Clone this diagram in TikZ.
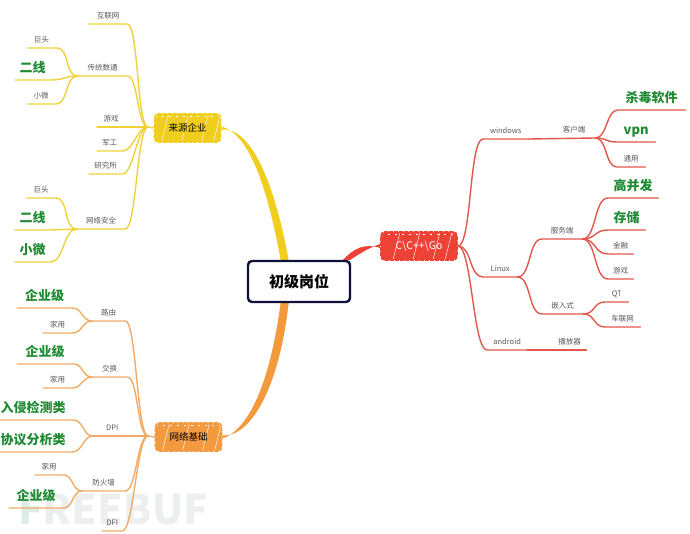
\documentclass[tikz,border=0pt]{standalone}
\usepackage{fontspec}
\setmainfont{Noto Sans CJK SC}
\definecolor{ybranch}{HTML}{EFD23A}
\definecolor{obranch}{HTML}{F0AC66}
\definecolor{rbranch}{HTML}{E2574C}
\definecolor{yfill}{HTML}{F0CE1E}
\definecolor{ofill}{HTML}{F39A3E}
\definecolor{rfill}{HTML}{EE4237}
\definecolor{leafgreen}{HTML}{1F8A33}
\definecolor{rootnavy}{HTML}{0E1238}
\definecolor{markgray}{HTML}{EDEFEE}
\definecolor{markgreen}{HTML}{DDEDE6}
\tikzset{
  small/.style={inner xsep=0pt, inner ysep=5.5pt, anchor=south west, text depth=0pt, text=black!65, font=\fontsize{7.5}{8}\selectfont},
  big/.style={inner xsep=0pt, inner ysep=7pt, anchor=south west, text depth=0pt, text=leafgreen, font=\fontsize{13}{14}\selectfont\bfseries},
  sketch/.style={draw=#1, fill=#1, line width=1.8pt, dash pattern=on 4pt off 1pt, rounded corners=4pt, minimum width=66pt, minimum height=28pt, inner sep=0pt,
    font=\fontsize{9.5}{10}\selectfont,
    path picture={
      \foreach \dx in {-26,-6,14,26}
        \draw[white, line width=.4pt, solid] ([xshift=\dx pt]path picture bounding box.south) -- ++(7,-28);
      \draw[white, line width=.8pt, dash pattern=on 2pt off 5pt] ([yshift=-2pt]path picture bounding box.north west) -- ([yshift=-2pt]path picture bounding box.north east);
    }},
  twig/.style={line width=1.4pt, line cap=round},
  lcurve/.style={out=180, in=0, out distance=#1, in distance=#1},
  rcurve/.style={out=0, in=180, out distance=#1, in distance=#1},
}
\begin{document}
\begin{tikzpicture}[x=1pt, y=-1pt]
  \useasboundingbox (0,0) rectangle (690,534);

  % watermark
  \node[anchor=west, inner sep=0pt, text=markgray, font=\fontsize{41}{41}\selectfont\bfseries] (mark) at (18,510) {\textcolor{markgreen}{F}REEBUF};

  % centre and the three main boxes
  \node[sketch=yfill, text=black] (laiyuan) at (187.5,128) {来源企业};
  \node[sketch=ofill, text=black] (wangluo) at (188.5,437) {网络基础};
  \node[sketch=rfill, text=white, minimum width=76pt, font=\fontsize{10.5}{11}\selectfont] (cgo) at (419,246) {C\textbackslash C++\textbackslash Go};
  \coordinate (yroot) at (285,262);
  \coordinate (oroot) at (285,300);
  \coordinate (rroot) at (347,262);
  \fill[yfill] ([yshift=-1.5pt]laiyuan.east) .. controls (252,127) and (275,185) .. ([xshift=4pt]yroot)
    -- ([xshift=-4pt]yroot) .. controls (268,190) and (250,134) .. ([yshift=1.5pt]laiyuan.east) -- cycle;
  \fill[ofill] ([yshift=-1.5pt]wangluo.east) .. controls (248,430) and (270,385) .. ([xshift=-4pt]oroot)
    -- ([xshift=4pt]oroot) .. controls (280,385) and (252,437) .. ([yshift=1.5pt]wangluo.east) -- cycle;
  \fill[rfill] ([yshift=-2pt]cgo.west) .. controls (365,243) and (354,248) .. ([xshift=-4pt,yshift=2pt]rroot)
    -- ([xshift=3pt,yshift=2pt]rroot) .. controls (358,255) and (366,249) .. ([yshift=2pt]cgo.west) -- cycle;
  \node[draw=rootnavy, fill=white, line width=2.4pt, rounded corners=4pt, minimum width=102pt, minimum height=41pt,
    inner sep=0pt, font=\fontsize{15}{16}\selectfont\bfseries] (root) at (299,281.5) {初级岗位};

  % yellow side
  \coordinate (yhub) at (148,127);
  \node[small, minimum width=38pt] (hulian) at (89,24) {互联网};
  \node[small, minimum width=49pt] (chuantong) at (78,76) {传统数通};
  \node[small, minimum width=28pt] (youxi) at (97,127) {游戏};
  \node[small, minimum width=25pt] (jungong) at (97,151) {军工};
  \node[small, minimum width=33pt] (yanjiu) at (89,174) {研究所};
  \node[small, minimum width=48pt] (anquan) at (77,229) {网络安全};
  \node[small, minimum width=29pt] (jutou) at (27,48) {巨头};
  \node[big, minimum width=35pt] (erxian) at (15,80) {二线};
  \node[small, minimum width=28pt] (xiaowei) at (27,104) {小微};
  \node[small, minimum width=28pt] (jutoub) at (27,198) {巨头};
  \node[big, minimum width=35pt] (erxianb) at (15,230) {二线};
  \node[big, minimum width=35pt] (xiaoweib) at (15,262) {小微};
  \draw[ybranch, twig] (laiyuan.west) -- (yhub);
  \foreach \leaf in {hulian,chuantong,youxi,jungong,yanjiu,anquan}
    \draw[ybranch, twig] (yhub) to[lcurve=11pt] (\leaf.south east) -- (\leaf.south west);
  \foreach \leaf in {jutou,erxian,xiaowei}
    \draw[ybranch, twig] (chuantong.south west) to[lcurve=14pt] (\leaf.south east) -- (\leaf.south west);
  \foreach \leaf in {jutoub,erxianb,xiaoweib}
    \draw[ybranch, twig] (anquan.south west) to[lcurve=14pt] (\leaf.south east) -- (\leaf.south west);

  % orange side
  \coordinate (ohub) at (148,436);
  \node[small, minimum width=33pt] (luyou) at (92,321) {路由};
  \node[small, minimum width=35pt] (jiaohuan) at (92,377) {交换};
  \node[small, minimum width=38pt] (dpi) at (93,436) {DPI};
  \node[small, minimum width=43pt] (fanghuo) at (82,491) {防火墙};
  \node[small, minimum width=20pt] (dfi) at (102,531) {DFI};
  \node[big, minimum width=55pt] (qiye) at (17,308) {企业级};
  \node[small, minimum width=29pt] (jiayong) at (43,333) {家用};
  \node[big, minimum width=56pt] (qiyeb) at (17,364) {企业级};
  \node[small, minimum width=29pt] (jiayongb) at (43,388) {家用};
  \node[big, minimum width=73pt] (ruqin) at (0,420) {\hspace*{-7pt}入侵检测类};
  \node[big, minimum width=72pt] (xieyi) at (0,452) {\hspace*{-6pt}协议分析类};
  \node[small, minimum width=28pt] (jiayongc) at (35,475) {家用};
  \node[big, minimum width=54pt] (qiyec) at (9,508) {企业级};
  \draw[obranch, twig] (wangluo.west) -- (ohub);
  \foreach \leaf in {luyou,jiaohuan,dpi,fanghuo,dfi}
    \draw[obranch, twig] (ohub) to[lcurve=11pt] (\leaf.south east) -- (\leaf.south west);
  \foreach \leaf in {qiye,jiayong}
    \draw[obranch, twig] (luyou.south west) to[lcurve=10pt] (\leaf.south east) -- (\leaf.south west);
  \foreach \leaf in {qiyeb,jiayongb}
    \draw[obranch, twig] (jiaohuan.south west) to[lcurve=10pt] (\leaf.south east) -- (\leaf.south west);
  \foreach \leaf in {ruqin,xieyi}
    \draw[obranch, twig] (dpi.south west) to[lcurve=10pt] (\leaf.south east) -- (\leaf.south west);
  \foreach \leaf in {jiayongc,qiyec}
    \draw[obranch, twig] (fanghuo.south west) to[lcurve=10pt] (\leaf.south east) -- (\leaf.south west);

  % red side
  \node[small, minimum width=45pt] (windows) at (483,139) {windows};
  \node[small, minimum width=34pt] (linux) at (483,277) {Linux};
  \node[small, minimum width=40pt] (android) at (487,350) {android};
  \node[small, minimum width=42pt] (kehu) at (553,138) {客户端};
  \node[small, minimum width=33pt] (bofang) at (553,350) {播放器};
  \node[small, minimum width=40pt] (fuwu) at (542,239) {服务端};
  \node[small, minimum width=41pt] (qianru) at (542,314) {嵌入式};
  \node[big, minimum width=67pt] (shadu) at (618,110) {杀毒软件};
  \node[big, minimum width=38pt] (vpn) at (617,142) {vpn};
  \node[small, minimum width=28pt] (tongyong) at (617,167) {通用};
  \node[big, minimum width=50pt] (gaobing) at (608,198) {高并发};
  \node[big, minimum width=37pt] (cunchu) at (608,230) {存储};
  \node[small, minimum width=25pt] (jinrong) at (608,254) {金融};
  \node[small, minimum width=25pt] (youxib) at (608,279) {游戏};
  \node[small, minimum width=23pt] (qt) at (605,302) {QT};
  \node[small, minimum width=35pt] (chelian) at (605,327) {车联网};
  \foreach \leaf in {windows,linux,android}
    \draw[rbranch, twig] (cgo.east) to[rcurve=14pt] (\leaf.south west) -- (\leaf.south east);
  \draw[rbranch, twig] (windows.south east) -- (kehu.south east);
  \draw[rbranch, twig] (android.south east) -- (bofang.south east);
  \foreach \leaf in {fuwu,qianru}
    \draw[rbranch, twig] (linux.south east) to[rcurve=14pt] (\leaf.south west) -- (\leaf.south east);
  \foreach \leaf in {shadu,vpn,tongyong}
    \draw[rbranch, twig] (kehu.south east) to[rcurve=12pt] (\leaf.south west) -- (\leaf.south east);
  \foreach \leaf in {gaobing,cunchu,jinrong,youxib}
    \draw[rbranch, twig] (fuwu.south east) to[rcurve=14pt] (\leaf.south west) -- (\leaf.south east);
  \foreach \leaf in {qt,chelian}
    \draw[rbranch, twig] (qianru.south east) to[rcurve=12pt] (\leaf.south west) -- (\leaf.south east);
\end{tikzpicture}
\end{document}
